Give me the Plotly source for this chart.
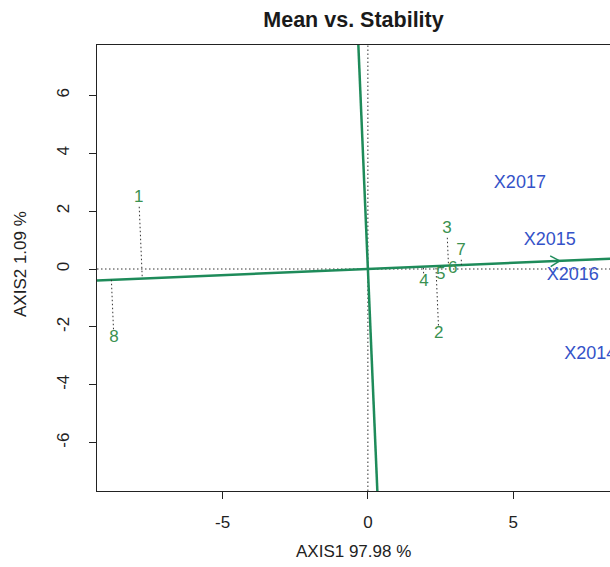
import numpy as np
import plotly.graph_objects as go

# ---------------- data ----------------
genotype_labels = ["1", "2", "3", "4", "5", "6", "7", "8"]
genotype_x = [-7.88, 2.44, 2.72, 1.93, 2.51, 2.92, 3.20, -8.74]
genotype_y = [2.45, -2.25, 1.38, -0.45, -0.21, 0.00, 0.62, -2.38]

env_labels = ["X2014", "X2015", "X2016", "X2017"]
env_x = [7.65, 6.26, 7.05, 5.23]
env_y = [-2.94, 1.00, -0.21, 2.97]

mean_env = [6.60, 0.28]          # average-environment coordinate (arrow tip)

x_ticks = [-5, 0, 5]
x_tick_labels = ["-5", "0", "5"]
y_ticks = [-6, -4, -2, 0, 2, 4, 6]
y_tick_labels = ["-6", "-4", "-2", "0", "2", "4", "6"]

x_range = [-9.32, 8.33]
y_range = [-7.67, 7.74]

title = "Mean vs. Stability"
x_title = "AXIS1 97.98 %"
y_title = "AXIS2 1.09 %"

# ---------------- style ----------------
FONT = "Liberation Sans, Arial, sans-serif"
LINE_GREEN = "#1E8B5A"
GEN_GREEN = "#3A9150"
ENV_BLUE = "#3452C8"
DOT = "#333333"

fig = go.Figure()

# ATC abscissa and ordinate through the origin
u = np.array(mean_env) / np.linalg.norm(mean_env)
v = np.array([-u[1], u[0]])
t = np.array([-30.0, 30.0])
fig.add_trace(go.Scatter(x=t * u[0], y=t * u[1], mode="lines",
                         line=dict(color=LINE_GREEN, width=2.5),
                         hoverinfo="skip", showlegend=False))
fig.add_trace(go.Scatter(x=t * v[0], y=t * v[1], mode="lines",
                         line=dict(color=LINE_GREEN, width=2.5),
                         hoverinfo="skip", showlegend=False))

# arrow head at mean environment
tip = np.array(mean_env)
arm = 0.37
ang = np.deg2rad(30)
for s in (1, -1):
    c, sn = np.cos(s * ang), np.sin(s * ang)
    back = -u
    d = np.array([back[0] * c - back[1] * sn, back[0] * sn + back[1] * c])
    p = tip + arm * d
    fig.add_trace(go.Scatter(x=[tip[0], p[0]], y=[tip[1], p[1]], mode="lines",
                             line=dict(color=LINE_GREEN, width=1.5),
                             hoverinfo="skip", showlegend=False))

# dotted projections of genotypes onto the ATC abscissa
gap = 0.3
for gx, gy in zip(genotype_x, genotype_y):
    p = np.array([gx, gy])
    proj = (p @ u) * u
    d = proj - p
    L = np.linalg.norm(d)
    if L > gap:
        start = p + d / L * gap
        fig.add_trace(go.Scatter(x=[start[0], proj[0]], y=[start[1], proj[1]],
                                 mode="lines",
                                 line=dict(color=DOT, width=1, dash="1.5px,2.5px"),
                                 hoverinfo="skip", showlegend=False))

# genotype labels
fig.add_trace(go.Scatter(x=genotype_x, y=genotype_y, mode="text",
                         text=genotype_labels, textposition="middle center",
                         textfont=dict(family=FONT, size=17, color=GEN_GREEN),
                         hoverinfo="skip", showlegend=False))

# environment labels
fig.add_trace(go.Scatter(x=env_x, y=env_y, mode="text",
                         text=env_labels, textposition="middle center",
                         textfont=dict(family=FONT, size=18, color=ENV_BLUE),
                         cliponaxis=False,
                         hoverinfo="skip", showlegend=False))

# dotted reference axes (h=0, v=0)
fig.add_shape(type="line", xref="paper", yref="y", x0=0, x1=1, y0=0, y1=0,
              line=dict(color=DOT, width=1, dash="1.5px,2.5px"), layer="below")
fig.add_shape(type="line", xref="x", yref="paper", x0=0, x1=0, y0=0, y1=1,
              line=dict(color=DOT, width=1, dash="1.5px,2.5px"), layer="below")

fig.update_layout(
    width=610, height=567,
    margin=dict(l=97, r=0, t=45, b=76),
    paper_bgcolor="white", plot_bgcolor="white",
    hovermode=False,
    font=dict(family=FONT, size=17, color="#222"),
    title=dict(text="<b>" + title + "</b>", x=(97 + 610) / 2 / 610, xanchor="center",
               y=1 - 19 / 567, yanchor="middle",
               font=dict(family=FONT, size=21.5, color="#1a1a1a")),
    xaxis=dict(range=x_range, tickvals=x_ticks, ticktext=x_tick_labels,
               showgrid=False, zeroline=False, showline=True, mirror=True,
               linecolor="#222", linewidth=1, ticks="outside", ticklen=7,
               tickcolor="#222", tickfont=dict(family=FONT, size=17, color="#222"),
               ticklabelstandoff=9),
    yaxis=dict(range=y_range, tickvals=y_ticks, ticktext=y_tick_labels,
               showgrid=False, zeroline=False, showline=True, mirror=False,
               linecolor="#222", linewidth=1, ticks="outside", ticklen=7,
               tickcolor="#222", tickangle=-90,
               tickfont=dict(family=FONT, size=17, color="#222"),
               ticklabelstandoff=13),
    annotations=[
        dict(text=x_title, xref="paper", yref="paper", x=0.5, y=(491 - 551) / 446,
             xanchor="center", yanchor="middle", showarrow=False,
             font=dict(family=FONT, size=17, color="#222")),
        dict(text=y_title, xref="paper", yref="paper", x=(20 - 97) / 513,
             y=(491 - 264) / 446,
             xanchor="center", yanchor="middle", showarrow=False, textangle=-90,
             font=dict(family=FONT, size=17, color="#222")),
    ],
)

fig.write_html("out.html",
               config={"displayModeBar": False, "staticPlot": True},
               post_script="document.body.style.margin='0px';"
                           "document.body.style.overflow='hidden';")
